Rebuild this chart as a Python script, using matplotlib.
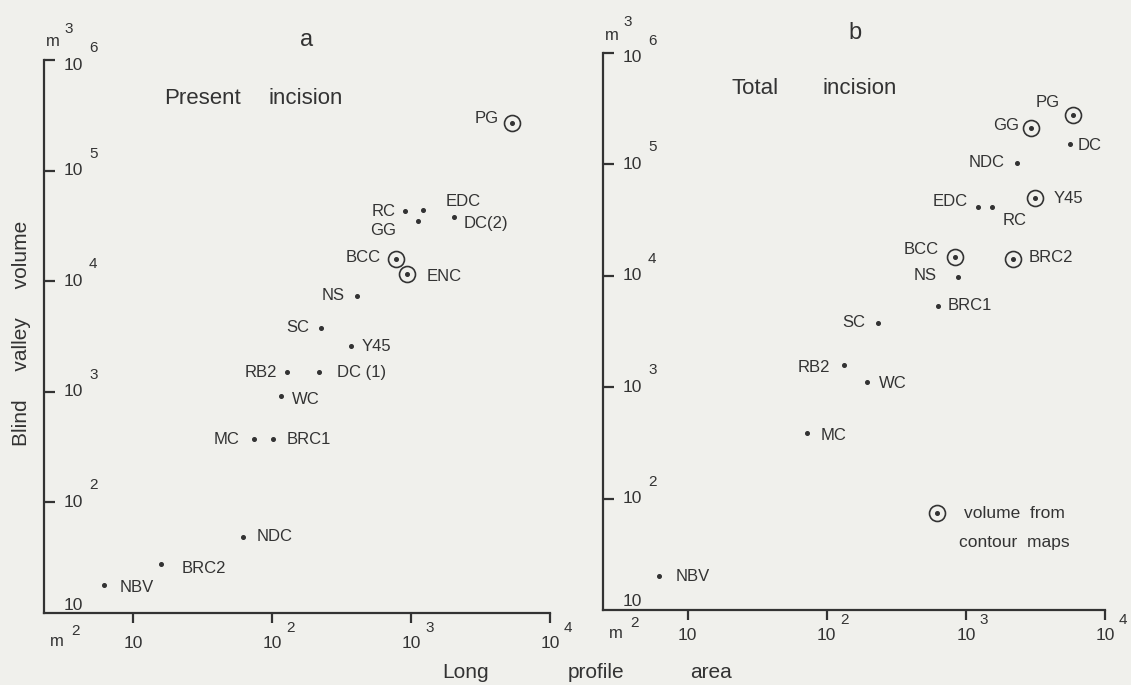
import matplotlib
matplotlib.use('Agg')
import matplotlib.pyplot as plt

# --- data (long profile area m2, blind valley volume m3)
a_names = ['PG', 'RC', 'EDC', 'GG', 'DC(2)', 'BCC', 'ENC', 'NS', 'SC', 'Y45',
           'RB2', 'DC (1)', 'WC', 'MC', 'BRC1', 'NDC', 'BRC2', 'NBV']
a_area = [5370, 912, 1230, 1120, 2040, 776, 933, 407, 224, 372,
          129, 219, 117, 74, 102, 62, 16, 6.2]
a_volume = [269000, 42700, 43600, 34700, 38000, 15800, 11700, 7410, 3800, 2570,
            1510, 1510, 912, 372, 372, 49, 27.5, 18]
a_contour = ['PG', 'BCC', 'ENC']

b_names = ['PG', 'GG', 'DC', 'NDC', 'Y45', 'EDC', 'RC', 'BCC', 'BRC2', 'NS',
           'BRC1', 'SC', 'RB2', 'WC', 'MC', 'NBV']
b_area = [5890, 2950, 5620, 2340, 3160, 1230, 1550, 832, 2190, 871,
          631, 234, 132, 195, 72, 6.2]
b_volume = [275000, 214000, 151000, 102000, 50100, 41700, 41700, 14800, 14100, 9770,
            5370, 3800, 1580, 1120, 389, 20]
b_contour = ['PG', 'GG', 'Y45', 'BCC', 'BRC2']

x_exps = [1, 2, 3, 4]
y_exps = [1, 2, 3, 4, 5, 6]

# label offsets in pixels (dx, dy)
a_off = {'PG': (-14, 5), 'RC': (-10, 0), 'EDC': (22, 9), 'GG': (-22, -9),
         'DC(2)': (10, -6), 'BCC': (-15, 2), 'ENC': (20, -3), 'NS': (-12, 0),
         'SC': (-11, 0), 'Y45': (10, 0), 'RB2': (-10, 0), 'DC (1)': (18, 0),
         'WC': (10, -3), 'MC': (-14, 0), 'BRC1': (13, 0), 'NDC': (14, 0),
         'BRC2': (20, -4), 'NBV': (16, -3)}
b_off = {'PG': (-13, 13), 'GG': (-12, 2), 'DC': (7, -1), 'NDC': (-13, 1),
         'Y45': (18, -1), 'EDC': (-11, 5), 'RC': (10, -14), 'BCC': (-16, 7),
         'BRC2': (15, 2), 'NS': (-21, 1), 'BRC1': (10, 0), 'SC': (-13, 0),
         'RB2': (-13, -2), 'WC': (12, -2), 'MC': (14, -3), 'NBV': (17, 0)}

W, H = 1131, 685
BG = '#f0f0ec'
INK = '#333333'
FONT = ['Liberation Sans', 'DejaVu Sans']
plt.rcParams['font.family'] = FONT

fig = plt.figure(figsize=(W / 100, H / 100), dpi=100, facecolor=BG)


def rect(x0, y_top, x1, y_bot):
    return [x0 / W, 1 - y_bot / H, (x1 - x0) / W, (y_bot - y_top) / H]


ax_a = fig.add_axes(rect(44, 60, 550, 613))
ax_b = fig.add_axes(rect(603, 53, 1105, 610))


def setup(ax, xmin, xlab_dy):
    ax.set_facecolor('none')
    ax.set_xscale('log')
    ax.set_yscale('log')
    ax.set_xlim(xmin, 1e4)
    ax.set_ylim(10, 1e6)
    for s in ['top', 'right']:
        ax.spines[s].set_visible(False)
    for s in ['left', 'bottom']:
        ax.spines[s].set_linewidth(1.6)
        ax.spines[s].set_color(INK)
    ax.set_xticks([10.0 ** e for e in x_exps])
    ax.set_yticks([10.0 ** e for e in y_exps[1:]])
    ax.set_xticklabels([])
    ax.set_yticklabels([])
    ax.minorticks_off()
    ax.tick_params(axis='x', direction='out', length=7, width=1.6, color=INK)
    ax.tick_params(axis='y', direction='in', length=8, width=1.6, color=INK)
    # y tick labels: 10 with raised exponent, drawn inside the axis
    ty = ax.get_yaxis_transform()
    for e in y_exps:
        dy = 5 if e == 6 else 0
        if e == 1:
            ax.annotate('10', (0, 10.0 ** e), xycoords=ty, xytext=(20, 8),
                        textcoords='offset pixels', ha='left', va='center',
                        fontsize=12.5, color=INK)
            continue
        ax.annotate('10', (0, 10.0 ** e), xycoords=ty, xytext=(20, -dy),
                    textcoords='offset pixels', ha='left', va='center',
                    fontsize=12.5, color=INK)
        ax.annotate(str(e), (0, 10.0 ** e), xycoords=ty, xytext=(45, 17 - dy),
                    textcoords='offset pixels', ha='left', va='center',
                    fontsize=11, color=INK)
    # x tick labels
    tx = ax.get_xaxis_transform()
    for e in x_exps:
        ax.annotate('10', (10.0 ** e, 0), xycoords=tx, xytext=(0, -xlab_dy),
                    textcoords='offset pixels', ha='center', va='center',
                    fontsize=12.5, color=INK)
        if e > 1:
            ax.annotate(str(e), (10.0 ** e, 0), xycoords=tx,
                        xytext=(14, -xlab_dy + 15), textcoords='offset pixels',
                        ha='left', va='center', fontsize=11, color=INK)
    # units
    ax.annotate('m', (0, 0), xycoords='axes fraction', xytext=(13, -xlab_dy + 1),
                textcoords='offset pixels', ha='center', va='center',
                fontsize=12, color=INK)
    ax.annotate('2', (0, 0), xycoords='axes fraction', xytext=(27, -xlab_dy + 12),
                textcoords='offset pixels', ha='left', va='center',
                fontsize=11, color=INK)
    ax.annotate('m', (0, 1), xycoords='axes fraction', xytext=(9, 18),
                textcoords='offset pixels', ha='center', va='center',
                fontsize=12, color=INK)
    ax.annotate('3', (0, 1), xycoords='axes fraction', xytext=(20, 31),
                textcoords='offset pixels', ha='left', va='center',
                fontsize=11, color=INK)


def draw(ax, names, area, volume, contour, offsets):
    for n, x, y in zip(names, area, volume):
        if n in contour:
            ax.plot(x, y, marker='o', ms=11.5, mfc='none', mec=INK, mew=1.2,
                    clip_on=False)
        ax.plot(x, y, marker='o', ms=2.6, color=INK, clip_on=False)
        dx, dy = offsets[n]
        ax.annotate(n, (x, y), xytext=(dx, dy), textcoords='offset pixels',
                    ha='left' if dx > 0 else 'right', va='center',
                    fontsize=12, color=INK)


setup(ax_a, 10 ** 0.36, 30)
setup(ax_b, 10 ** 0.392, 25)
draw(ax_a, a_names, a_area, a_volume, a_contour, a_off)
draw(ax_b, b_names, b_area, b_volume, b_contour, b_off)

# legend of the right panel
ax_b.plot(0.665, 0.174, transform=ax_b.transAxes, marker='o', ms=11.5,
          mfc='none', mec=INK, mew=1.2)
ax_b.plot(0.665, 0.174, transform=ax_b.transAxes, marker='o', ms=2.6, color=INK)
ax_b.text(0.72, 0.174, 'volume  from', transform=ax_b.transAxes, ha='left',
          va='center', fontsize=12.5, color=INK)
ax_b.text(0.709, 0.122, 'contour  maps', transform=ax_b.transAxes, ha='left',
          va='center', fontsize=12.5, color=INK)


def ftext(x, y, s, **kw):
    fig.text(x / W, 1 - y / H, s, color=INK, **kw)


# panel letters and titles
ftext(307, 40, 'a', fontsize=17, ha='center', va='center')
ftext(855, 33, 'b', fontsize=17, ha='center', va='center')
ftext(164, 98, 'Present', fontsize=16, ha='left', va='center')
ftext(268, 98, 'incision', fontsize=16, ha='left', va='center')
ftext(731, 88, 'Total', fontsize=16, ha='left', va='center')
ftext(822, 88, 'incision', fontsize=16, ha='left', va='center')

# axis titles
ftext(22, 333, 'Blind     valley     volume', fontsize=15, rotation=90,
      ha='center', va='center')
ftext(466, 672, 'Long', fontsize=15, ha='center', va='center')
ftext(596, 672, 'profile', fontsize=15, ha='center', va='center')
ftext(711, 672, 'area', fontsize=15, ha='center', va='center')

fig.savefig('out.png', dpi=100, facecolor=BG)
